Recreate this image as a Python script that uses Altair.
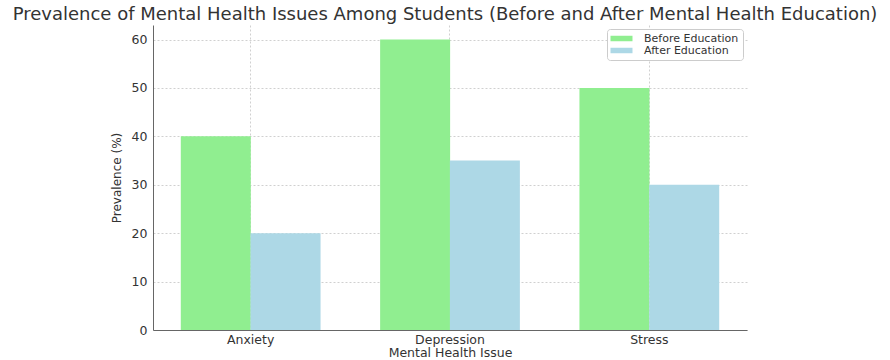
import altair as alt
import pandas as pd

issues = ["Anxiety", "Depression", "Stress"]
before = [40, 60, 50]
after = [20, 35, 30]
series = ["Before Education", "After Education"]
colors = ["#90EE90", "#ADD8E6"]
y_ticks = [0, 10, 20, 30, 40, 50, 60]

rows = []
for i, iss in enumerate(issues):
    rows.append({"issue": iss, "group": series[0], "value": before[i]})
    rows.append({"issue": iss, "group": series[1], "value": after[i]})
df = pd.DataFrame(rows)

FONT = "DejaVu Sans"

chart = alt.Chart(df).mark_bar(size=70).encode(
    x=alt.X("issue:N", sort=issues,
            scale=alt.Scale(paddingInner=0.3, paddingOuter=0.14),
            axis=alt.Axis(title="Mental Health Issue", labelAngle=0, bandPosition=0.5,
                          grid=True, gridDash=[2, 2], gridColor="#d0d0d0",
                          ticks=False, labelPadding=3, titlePadding=1,
                          domainColor="#666", labelFontSize=12.5, titleFontSize=12.5,
                          labelColor="#333", titleColor="#333", titleFontWeight="normal")),
    xOffset=alt.XOffset("group:N", sort=series),
    y=alt.Y("value:Q", scale=alt.Scale(domain=[0, 63], nice=False),
            axis=alt.Axis(title="Prevalence (%)", values=y_ticks, grid=True,
                          gridDash=[2, 2], gridColor="#d0d0d0", ticks=False,
                          labelPadding=6, titlePadding=8, domainColor="#666",
                          labelFontSize=12.5, titleFontSize=12, labelColor="#333",
                          titleColor="#333", titleFontWeight="normal")),
    color=alt.Color("group:N", sort=series,
                    scale=alt.Scale(domain=series, range=colors),
                    legend=alt.Legend(title=None, orient="top-right", offset=4,
                                      symbolType="M-2,-0.5H2V0.5H-2Z", symbolSize=121,
                                      symbolStrokeWidth=0, symbolOffset=5,
                                      labelFontSize=11, labelOffset=17,
                                      labelColor="#333", padding=4, rowPadding=0,
                                      strokeColor="#cccccc", cornerRadius=3,
                                      fillColor="white")),
).properties(
    width=594, height=305,
    title=alt.TitleParams("Prevalence of Mental Health Issues Among Students (Before and After Mental Health Education)",
                          fontSize=18, font=FONT, fontWeight="normal", color="#333",
                          anchor="middle", dx=-5, offset=1),
    autosize=alt.AutoSizeParams(type="none"),
    padding={"left": 153, "top": 25, "right": 143, "bottom": 30},
).configure(font=FONT).configure_view(stroke=None)

chart.save("out.html", embed_options={"renderer": "svg", "actions": False})
